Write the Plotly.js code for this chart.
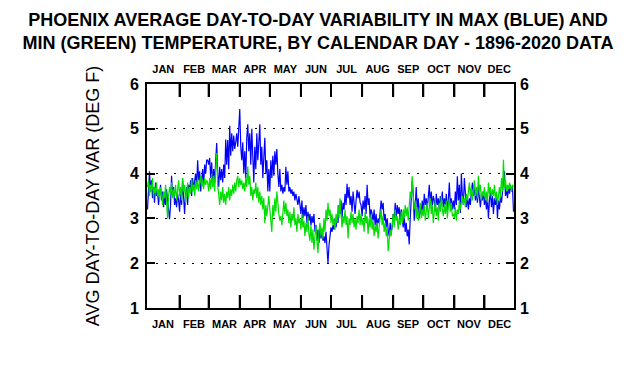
<!DOCTYPE html>
<html>
<head>
<meta charset="utf-8">
<script src="https://cdn.plot.ly/plotly-3.0.1.min.js"></script>
<style>html,body{margin:0;padding:0;background:#fff;}#chart{width:636px;height:372px;}</style>
</head>
<body>
<div id="chart"></div>
<script>
// Month labels and month-boundary tick positions (calendar day numbers)
const MONTHS = ['JAN','FEB','MAR','APR','MAY','JUN','JUL','AUG','SEP','OCT','NOV','DEC'];
const MONTH_EDGES = [33, 62, 93, 123, 154, 184, 215, 246, 276, 307, 337];

// Average day-to-day variability of MAX temperature (blue), deg F, day 1..366
const maxVar = [
  // Jan
  3.2,3.7,4.05,3.6,3.85,3.45,3.7,3.35,3.8,3.5, 3.6,3.3,3.55,3.75,3.4,3.6,3.25,3.5,3.3,3.65, 3.4,3.1,2.98,3.3,3.95,3.5,3.7,3.3,3.45,3.25,3.55,
  // Feb
  3.4,3.15,3.6,3.3,3.85,3.45,3.1,3.55,3.7,3.3, 3.75,3.6,3.85,3.5,3.9,3.65,3.8,4.0,3.7,4.3, 3.85,4.05,3.6,3.9,4.1,3.75,4.2,4.0,4.3,
  // Mar
  4.3,4.2,4.35,3.9,4.25,3.7,4.1,3.8,4.3,4.68, 4.0,3.7,4.15,3.85,4.1,3.8,4.2,3.9,4.76,4.2, 4.75,4.1,5.07,4.4,4.9,4.5,4.85,4.55,4.7,4.9,4.6,
  // Apr
  5.0,5.44,4.6,4.3,4.7,4.0,4.5,3.9,4.8,5.1, 4.5,4.9,4.2,5.0,4.4,3.8,4.6,4.1,4.9,4.3, 4.7,5.1,4.2,4.6,3.9,4.4,4.8,4.0,4.3,3.6,
  // May
  4.1,3.6,4.3,3.9,4.4,3.95,4.5,4.2,4.55,4.0, 3.7,4.1,3.6,3.75,3.55,3.7,3.6,4.15,3.75,4.05, 3.6,3.7,3.55,3.65,3.5,3.6,3.4,3.55,3.45,3.3,3.5,
  // Jun
  3.3,3.1,3.4,3.0,3.25,3.05,3.3,2.9,3.15,2.95, 3.1,2.85,3.05,2.9,3.1,2.7,2.85,2.5,2.75,2.45, 2.8,2.55,2.75,2.5,2.6,2.45,2.7,2.25,2.0,2.4,
  // Jul
  2.6,2.8,2.7,2.85,2.75,3.0,2.8,3.05,2.9,3.3, 3.1,3.4,3.0,3.35,3.2,3.55,3.3,3.77,3.45,3.7, 3.3,3.5,3.15,3.6,3.35,3.1,3.4,3.64,3.45,3.6,3.35,
  // Aug
  3.3,3.05,3.4,3.2,3.5,3.1,3.75,3.3,3.45,3.0, 3.2,3.1,2.95,3.2,2.85,3.1,2.8,3.0,2.9,3.15, 3.4,3.2,3.35,2.95,3.1,2.8,3.0,2.75,2.6,2.9,2.7,
  // Sep
  2.8,3.1,2.95,3.35,3.0,3.3,3.1,3.25,2.95,3.2, 3.0,2.8,3.05,2.7,2.9,2.6,2.75,2.42,3.0,3.64, 3.85,3.55,2.95,3.3,3.7,3.2,3.45,3.0,3.3,3.1,
  // Oct
  3.4,3.15,3.55,3.3,3.45,3.2,3.5,3.75,3.3,3.6, 3.25,3.5,3.4,3.15,3.55,3.3,3.45,3.2,3.5,3.35, 3.6,3.25,3.45,3.3,3.55,3.15,3.4,3.8,3.3,3.45,3.2,
  // Nov
  3.4,3.2,3.6,3.3,3.94,3.4,3.75,3.12,4.0,3.5, 3.3,3.9,3.45,3.25,3.5,3.2,3.45,3.3,3.6,3.8, 3.5,3.75,3.4,3.6,3.35,3.7,3.45,3.25,3.55,3.4,
  // Dec
  3.6,3.3,3.5,3.2,3.45,3.0,3.4,3.6,3.25,3.5, 3.1,3.45,3.3,3.55,3.0,3.4,3.2,3.5,3.35,3.6, 3.8,4.05,3.5,3.65,3.45,3.7,3.55,3.75,3.6,3.7,3.15
];

// Average day-to-day variability of MIN temperature (green), deg F, day 1..366
const minVar = [
  // Jan
  3.7,3.85,3.5,3.75,3.6,3.9,3.45,3.7,3.55,3.8, 3.5,3.65,3.4,3.7,3.55,3.3,3.6,3.45,3.75,3.35, 3.0,3.5,3.7,3.55,3.8,3.45,3.65,3.5,3.75,3.4,3.6,
  // Feb
  3.85,3.5,3.7,3.4,3.9,3.6,3.75,3.35,3.65,3.8, 3.45,3.7,3.55,3.9,3.6,3.75,3.5,3.85,3.65,3.9, 3.6,3.8,3.95,3.7,3.85,3.65,3.9,3.75,3.85,
  // Mar
  3.8,3.6,3.9,3.65,4.0,3.7,3.95,3.6,4.1,4.46, 3.75,3.5,3.3,3.6,3.4,3.7,3.35,3.55,3.3,3.6, 3.45,3.7,3.4,3.65,3.5,3.75,3.55,3.8,3.6,3.85,3.95,
  // Apr
  3.7,3.9,3.75,3.85,3.65,3.8,3.6,3.9,3.7,4.16, 3.75,3.95,3.5,3.7,3.4,3.65,3.55,3.8,3.45,3.7, 3.35,3.6,3.3,3.5,3.2,3.45,2.9,3.3,3.05,3.4,
  // May
  3.5,3.2,3.0,2.7,3.3,3.05,3.45,3.15,3.6,3.3, 3.1,2.95,3.05,2.85,3.2,3.4,3.1,3.35,3.05,3.2, 2.9,3.15,2.8,3.1,2.95,3.25,2.85,3.0,2.7,3.1,2.9,
  // Jun
  3.0,2.75,3.1,2.8,2.95,2.6,2.9,2.7,3.05,2.65, 2.5,2.85,2.45,2.75,2.3,2.6,2.85,2.5,2.23,2.7, 2.9,2.6,2.8,2.55,3.0,2.7,3.2,2.95,3.35,3.05,
  // Jul
  3.2,2.9,3.1,2.85,3.0,2.75,3.1,2.9,3.3,3.0, 3.45,3.1,2.8,3.05,2.9,3.2,2.85,3.05,2.55,3.0, 2.85,3.15,2.9,3.1,2.8,3.0,2.75,3.05,2.9,3.2,2.85,
  // Aug
  3.1,2.85,3.0,2.7,3.15,2.9,3.05,2.65,3.0,2.8, 3.1,2.75,2.95,2.6,2.85,2.7,2.9,2.55,2.8,3.0, 3.2,2.85,3.05,2.7,2.9,2.6,2.8,2.27,2.5,2.75,2.6,
  // Sep
  2.9,3.1,2.8,3.2,2.95,3.05,2.75,3.0,2.85,3.15, 2.9,3.2,3.0,3.3,3.05,3.25,2.95,3.4,3.6,3.45, 3.94,3.5,3.2,3.4,3.0,3.25,2.95,3.15,3.35,3.0,
  // Oct
  3.2,3.05,3.3,2.95,3.15,3.35,3.0,3.25,3.45,3.1, 3.3,2.9,3.2,3.4,3.05,3.25,2.95,3.35,3.15,3.5, 3.2,3.05,3.3,3.1,3.4,3.0,3.25,3.45,3.15,3.35,3.05,
  // Nov
  3.1,3.0,3.25,2.95,3.2,3.1,3.4,3.2,3.35,3.5, 3.3,3.45,3.25,3.55,3.4,3.65,3.8,3.5,3.7,3.4, 3.6,3.85,3.5,3.7,3.45,3.95,3.6,3.75,3.4,3.6,
  // Dec
  3.5,3.7,3.4,3.6,3.35,3.8,3.55,3.7,3.45,3.65, 3.5,3.75,3.4,3.6,3.3,3.55,3.7,3.45,3.9,3.6, 4.31,3.7,3.85,3.6,3.75,3.65,3.8,3.7,3.6,3.75,3.7
];

const days = maxVar.map((_, i) => i + 1);
const bounds = [0.5].concat(MONTH_EDGES, [366.5]);
const monthCenters = MONTHS.map((_, i) => (bounds[i] + bounds[i + 1]) / 2);

const FONT = 'Liberation Sans, Arial, sans-serif';
const XR = [0.5, 366.5];
const YR = [1, 6];
const PLOT_H = 372 - 84 - 64;                    // plot area height in px
const TICK_LEN = 13 * (YR[1] - YR[0]) / PLOT_H;   // 13 px month ticks, in y units

// Month-boundary tick marks drawn as thin filled bars at bottom and top of the frame
const tickBarX = MONTH_EDGES.concat(MONTH_EDGES);
const tickBarBase = MONTH_EDGES.map(() => YR[0]).concat(MONTH_EDGES.map(() => YR[1] - TICK_LEN));
const tickBarLen = tickBarX.map(() => TICK_LEN);

const traces = [
  {x: tickBarX, y: tickBarLen, base: tickBarBase, xaxis: 'x', yaxis: 'y', type: 'bar', width: 2,
   marker: {color: '#000', line: {width: 0}}, hoverinfo: 'skip', showlegend: false},
  {x: days, y: maxVar, xaxis: 'x', yaxis: 'y', type: 'scatter', mode: 'lines', line: {color: '#0000ff', width: 1.2}, hoverinfo: 'skip', showlegend: false},
  {x: days, y: minVar, xaxis: 'x2', yaxis: 'y2', type: 'scatter', mode: 'lines', line: {color: '#00dd00', width: 1.2}, hoverinfo: 'skip', showlegend: false}
];

const monthLabelFont = {family: FONT, size: 11, color: '#000', weight: 'bold'};
const yLabelFont = {family: FONT, size: 16, color: '#000', weight: 'bold'};

// Bottom month labels (top labels come from the top x axis)
const bottomLabels = MONTHS.map((m, i) => ({
  text: m, x: monthCenters[i], xref: 'x', y: 0, yref: 'paper',
  yanchor: 'top', xanchor: 'center', yshift: -8, showarrow: false,
  font: monthLabelFont
}));

const layout = {
  width: 636, height: 372,
  margin: {l: 147, r: 122, t: 84, b: 64, pad: 0},
  paper_bgcolor: '#ffffff', plot_bgcolor: '#ffffff',
  showlegend: false,
  barmode: 'overlay',
  annotations: bottomLabels,
  title: {
    text: 'PHOENIX AVERAGE DAY-TO-DAY VARIABILITY IN MAX (BLUE) AND<br>MIN (GREEN) TEMPERATURE, BY CALENDAR DAY - 1896-2020 DATA',
    font: {family: FONT, size: 18, color: '#000', weight: 'bold'},
    xref: 'container', x: 0.5, xanchor: 'center',
    yref: 'container', y: 0.93, yanchor: 'top'
  },
  xaxis: {
    range: XR, showgrid: false, zeroline: false,
    tickmode: 'array', tickvals: MONTH_EDGES, showticklabels: false,
    ticks: 'inside', ticklen: 13, tickwidth: 2, tickcolor: '#000',
    showline: true, mirror: 'ticks', linecolor: '#000', linewidth: 2
  },
  xaxis2: {
    range: XR, overlaying: 'x', side: 'top', anchor: 'y2', showgrid: false, zeroline: false,
    tickmode: 'array', tickvals: monthCenters, ticktext: MONTHS, ticks: '',
    tickfont: monthLabelFont,
    showline: false, ticklabelstandoff: 8
  },
  yaxis: {
    range: YR, dtick: 1, tick0: 1, zeroline: false,
    ticks: 'inside', ticklen: 8, tickwidth: 2, tickcolor: '#000',
    showgrid: true, gridcolor: '#000', gridwidth: 1, griddash: '2px,7px',
    showline: true, mirror: 'ticks', linecolor: '#000', linewidth: 2,
    tickfont: yLabelFont,
    ticklabelstandoff: 3,
    title: {text: 'AVG DAY-TO-DAY VAR (DEG F)', font: {family: FONT, size: 18, color: '#000'}, standoff: 26}
  },
  yaxis2: {
    range: YR, dtick: 1, tick0: 1, overlaying: 'y', side: 'right', anchor: 'x2', zeroline: false,
    ticks: '', showgrid: false, showline: false,
    tickfont: yLabelFont,
    ticklabelstandoff: 5
  }
};

Plotly.newPlot('chart', traces, layout, {staticPlot: true, displayModeBar: false});
</script>
</body>
</html>
